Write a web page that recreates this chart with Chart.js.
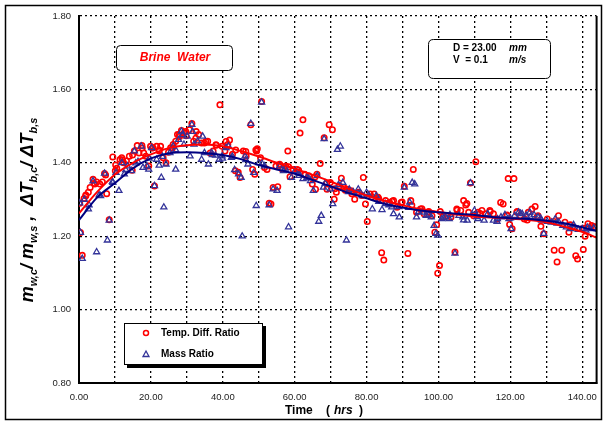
<!DOCTYPE html>
<html><head><meta charset="utf-8">
<script src="https://cdn.jsdelivr.net/npm/chart.js@4.4.1/dist/chart.umd.min.js"></script>
<style>html,body{margin:0;padding:0;background:#fff}#wrap{width:606px;height:425px;position:relative}</style>
</head><body><div id="wrap"><canvas id="c" width="606" height="425"></canvas></div>
<script>
// ---- Data ----
const tempX = [0.2,0.4,0.9,1.4,1.9,2.6,3.1,3.9,4.4,4.9,5.8,6.5,7.1,7.7,8.4,9.4,10.1,10.5,11.4,11.9,12.4,13.2,14.0,14.8,15.4,16.2,16.7,17.5,18.0,18.6,19.4,19.9,20.6,21.0,21.6,22.3,22.7,23.4,24.2,24.9,25.5,26.2,26.9,27.4,28.0,28.5,29.2,29.8,30.7,31.4,31.9,32.6,33.3,34.1,34.9,35.8,36.5,37.3,38.2,39.2,39.8,40.6,41.4,41.9,42.7,43.5,44.3,44.8,45.7,46.5,47.8,48.3,48.9,49.4,49.6,50.5,50.8,51.6,52.3,52.9,53.4,54.0,54.8,55.3,55.8,56.6,57.5,58.1,58.7,59.6,60.7,61.5,62.3,62.8,63.9,64.9,65.8,66.2,67.1,68.2,69.0,69.6,69.9,70.5,71.0,71.6,72.5,73.0,73.7,74.6,75.7,76.7,77.8,79.1,79.7,80.2,81.0,82.1,83.2,84.2,84.8,85.3,86.4,87.5,88.5,89.6,90.5,91.5,92.3,93.0,93.9,95.0,96.0,97.1,98.2,99.0,99.5,99.8,100.3,101.2,102.5,103.5,104.6,105.1,106.2,107.0,107.6,108.4,108.9,109.8,110.4,111.0,112.1,113.2,114.3,115.3,116.4,117.3,118.0,119.1,119.4,119.8,120.5,121.0,121.8,122.8,123.9,125.0,126.0,126.9,127.7,128.5,129.3,130.3,132.2,133.0,133.4,134.3,135.2,136.3,137.3,138.2,138.7,140.0,140.3,140.8,141.6,142.6,143.4,
  55.9,58.3,61.1,62.9,65.7,68.9,71.2,74.1,75.9,78.7,81.5,83.4,87.1,89.9,92.6,95.4,97.3,100.5,105.2,107.9,111.6,114.4,119.1,121.9,124.7,127.5,132.1,136.7,140.5,143.3,
  1.9,4.2,7.4,10.2,12.1,14.9,17.6,20.4,22.3,26.0,27.9,29.7,32.5,35.3,38.1,40.9,43.6,46.4,49.2];
const tempY = [1.29,1.21,1.148,1.303,1.31,1.32,1.333,1.355,1.342,1.348,1.342,1.348,1.371,1.316,1.245,1.416,1.378,1.385,1.409,1.414,1.40,1.405,1.418,1.38,1.432,1.447,1.427,1.447,1.427,1.418,1.391,1.445,1.441,1.337,1.445,1.432,1.445,1.414,1.40,1.429,1.441,1.45,1.459,1.477,1.472,1.488,1.481,1.474,1.49,1.507,1.459,1.485,1.477,1.454,1.454,1.459,1.427,1.432,1.448,1.558,1.445,1.432,1.45,1.462,1.423,1.378,1.374,1.36,1.432,1.418,1.504,1.382,1.369,1.432,1.438,1.414,1.567,1.387,1.382,1.29,1.288,1.333,1.391,1.335,1.396,1.382,1.391,1.432,1.362,1.382,1.382,1.481,1.517,1.369,1.365,1.342,1.328,1.369,1.398,1.468,1.328,1.504,1.346,1.49,1.301,1.32,1.337,1.358,1.333,1.328,1.324,1.301,1.32,1.36,1.288,1.24,1.315,1.315,1.306,1.155,1.135,1.297,1.292,1.297,1.279,1.292,1.336,1.153,1.297,1.382,1.265,1.274,1.261,1.265,1.256,1.211,1.231,1.099,1.12,1.252,1.256,1.252,1.157,1.274,1.27,1.297,1.285,1.265,1.345,1.256,1.403,1.265,1.27,1.261,1.27,1.261,1.247,1.292,1.288,1.256,1.357,1.232,1.22,1.357,1.265,1.256,1.247,1.265,1.274,1.281,1.256,1.227,1.207,1.247,1.162,1.13,1.256,1.162,1.238,1.211,1.225,1.147,1.138,1.22,1.164,1.20,1.234,1.229,1.225,
  1.394,1.389,1.380,1.367,1.362,1.344,1.329,1.325,1.316,1.311,1.307,1.302,1.295,1.293,1.284,1.275,1.267,1.267,1.271,1.289,1.262,1.267,1.258,1.267,1.244,1.253,1.240,1.231,1.222,1.226,
  1.312,1.344,1.367,1.394,1.408,1.421,1.440,1.440,1.435,1.440,1.476,1.485,1.467,1.458,1.449,1.458,1.435,1.431,1.435];
const massX = [0.2,0.4,0.9,1.5,2.6,3.9,4.9,6.0,7.1,7.9,8.4,9.4,10.3,11.1,11.9,12.6,13.5,14.6,15.4,16.4,17.3,17.8,18.9,19.4,20.2,21.0,21.6,22.3,22.9,23.6,24.2,25.3,26.2,26.9,27.7,28.5,29.2,30.1,30.9,31.4,32.0,33.0,34.1,34.9,36.0,36.9,38.0,39.0,39.8,40.9,41.6,42.4,43.3,44.4,45.1,45.4,46.2,47.0,47.8,48.6,49.3,50.0,50.8,51.6,52.9,54.0,55.1,55.8,56.9,58.3,59.1,60.1,61.2,62.3,63.4,64.4,65.2,66.3,66.7,67.4,68.0,68.2,69.9,70.6,71.9,72.7,73.4,74.4,75.2,76.3,77.7,78.8,80.0,81.6,82.7,84.3,85.3,87.0,87.5,89.1,90.5,92.0,92.7,93.4,93.9,95.5,96.6,98.0,98.8,99.3,99.8,100.9,102.0,103.0,104.6,105.7,106.8,108.0,108.9,110.0,111.0,112.7,113.7,115.3,116.4,117.4,118.5,119.6,120.2,121.2,122.3,123.3,124.4,125.4,126.6,127.7,128.7,129.3,130.3,131.4,132.5,133.5,134.6,135.6,136.7,137.8,138.9,140.0,141.0,142.1,143.2,
  50.9,57.4,61.1,63.9,68.5,72.2,75.0,77.8,80.6,83.4,86.2,89.0,91.7,94.5,97.3,101.4,103.2,107.0,110.7,116.3,120.0,122.8,125.6,128.4,133.0,137.6,141.4,
  2.8,5.6,9.3,13.0,15.8,19.5,23.2,26.9,28.8,31.6,34.4,37.1,39.9,42.7,46.4];
const massY = [1.29,1.21,1.139,1.30,1.274,1.35,1.157,1.31,1.371,1.189,1.243,1.346,1.373,1.324,1.40,1.369,1.391,1.378,1.432,1.403,1.445,1.387,1.391,1.382,1.441,1.337,1.409,1.393,1.36,1.279,1.396,1.427,1.445,1.382,1.463,1.486,1.45,1.472,1.418,1.504,1.45,1.459,1.409,1.427,1.396,1.427,1.42,1.409,1.418,1.441,1.445,1.414,1.381,1.369,1.36,1.20,1.418,1.396,1.507,1.373,1.283,1.40,1.565,1.391,1.285,1.328,1.324,1.391,1.378,1.225,1.36,1.378,1.365,1.356,1.36,1.351,1.324,1.365,1.24,1.256,1.333,1.465,1.328,1.288,1.436,1.445,1.346,1.189,1.328,1.32,1.328,1.31,1.319,1.274,1.31,1.272,1.288,1.279,1.261,1.252,1.333,1.292,1.346,1.342,1.252,1.265,1.256,1.252,1.229,1.207,1.202,1.247,1.252,1.247,1.153,1.256,1.252,1.243,1.345,1.27,1.247,1.243,1.261,1.243,1.247,1.252,1.258,1.247,1.22,1.256,1.265,1.261,1.256,1.265,1.258,1.252,1.243,1.207,1.24,1.238,1.247,1.238,1.229,1.225,1.22,1.222,1.218,1.22,1.216,1.22,1.222,
  1.398,1.385,1.372,1.358,1.344,1.340,1.321,1.316,1.312,1.294,1.285,1.280,1.278,1.267,1.258,1.249,1.258,1.244,1.253,1.240,1.249,1.262,1.253,1.249,1.235,1.231,1.224,
  1.285,1.312,1.349,1.381,1.399,1.412,1.417,1.435,1.476,1.485,1.472,1.422,1.412,1.417,1.408];
const fitX = [0,5,10,15,20,25,30,35,40,45,50,55,60,65,70,75,80,85,90,95,100,105,110,115,120,125,130,135,140,144];
const tempFitY = [1.262,1.32,1.368,1.400,1.423,1.440,1.448,1.450,1.445,1.432,1.417,1.400,1.384,1.367,1.349,1.329,1.311,1.297,1.284,1.274,1.266,1.259,1.254,1.251,1.248,1.244,1.238,1.226,1.212,1.196];
const massFitY = [1.244,1.305,1.345,1.385,1.412,1.426,1.429,1.427,1.421,1.410,1.394,1.382,1.370,1.353,1.336,1.318,1.303,1.288,1.278,1.270,1.265,1.261,1.258,1.252,1.249,1.247,1.242,1.235,1.224,1.214];
const xTicks = [0,10,20,30,40,50,60,70,80,90,100,110,120,130,140];
const xLabelled = [0,20,40,60,80,100,120,140];
const yTicks = [0.8,1.0,1.2,1.4,1.6,1.8];
const seriesNames = ['Temp. Diff. Ratio', 'Mass Ratio'];
const xTitle = 'Time';
const xUnit = 'hrs';
const boxLabel = 'Brine  Water';
const paramLines = [['D = 23.00', 'mm'], ['V  = 0.1', 'm/s']];

const pts = (xs, ys) => xs.map((x, i) => ({x: x, y: ys[i]}));
const RED = '#ff0000', NAVY = '#000080', TRI = '#333399';
const FONT = '"Liberation Sans", Arial, sans-serif';

const deco = {
  id: 'deco',
  afterDraw(chart) {
    const ctx = chart.ctx, a = chart.chartArea;
    ctx.save();
    ctx.strokeStyle = '#000'; ctx.lineWidth = 1.5;
    ctx.strokeRect(5.5, 5.5, 596, 414);
    ctx.lineWidth = 2;
    ctx.beginPath(); ctx.moveTo(a.right, a.top); ctx.lineTo(a.right, a.bottom + 1); ctx.stroke();

    function rbox(x, y, w, h, r) {
      ctx.beginPath();
      ctx.moveTo(x + r, y); ctx.lineTo(x + w - r, y); ctx.quadraticCurveTo(x + w, y, x + w, y + r);
      ctx.lineTo(x + w, y + h - r); ctx.quadraticCurveTo(x + w, y + h, x + w - r, y + h);
      ctx.lineTo(x + r, y + h); ctx.quadraticCurveTo(x, y + h, x, y + h - r);
      ctx.lineTo(x, y + r); ctx.quadraticCurveTo(x, y, x + r, y); ctx.closePath();
      ctx.fillStyle = '#fff'; ctx.fill();
      ctx.strokeStyle = '#000'; ctx.lineWidth = 1; ctx.stroke();
    }
    rbox(116.5, 45.5, 116, 25, 4);
    ctx.fillStyle = RED; ctx.font = 'italic bold 12px ' + FONT;
    ctx.textAlign = 'center'; ctx.textBaseline = 'middle';
    ctx.fillText(boxLabel, 175, 58);
    rbox(428.5, 39.5, 122, 39, 5);
    ctx.fillStyle = '#000'; ctx.textAlign = 'left';
    paramLines.forEach((ln, i) => {
      const y = 48 + i * 12.5;
      ctx.font = 'bold 10px ' + FONT; ctx.fillText(ln[0], 453, y);
      ctx.font = 'italic bold 10px ' + FONT; ctx.fillText(ln[1], 509, y);
    });
    // legend
    ctx.fillStyle = '#000'; ctx.fillRect(127, 326, 139, 42);
    ctx.fillStyle = '#fff'; ctx.fillRect(124, 323, 139, 42);
    ctx.strokeStyle = '#000'; ctx.lineWidth = 1; ctx.strokeRect(124.5, 323.5, 138, 41);
    ctx.strokeStyle = RED; ctx.lineWidth = 1.5;
    ctx.beginPath(); ctx.arc(146, 333, 2.5, 0, Math.PI * 2); ctx.stroke();
    ctx.strokeStyle = TRI; ctx.lineWidth = 1.3;
    ctx.beginPath(); ctx.moveTo(146, 351); ctx.lineTo(149, 356.5); ctx.lineTo(143, 356.5); ctx.closePath(); ctx.stroke();
    ctx.fillStyle = '#000'; ctx.font = 'bold 10px ' + FONT; ctx.textAlign = 'left'; ctx.textBaseline = 'middle';
    ctx.fillText(seriesNames[0], 161, 333);
    ctx.fillText(seriesNames[1], 161, 354);
    // x title
    ctx.font = 'bold 12px ' + FONT; ctx.fillText(xTitle, 285, 411);
    ctx.fillText('(', 326, 411);
    ctx.font = 'italic bold 12px ' + FONT; ctx.fillText(xUnit, 334, 411);
    ctx.font = 'bold 12px ' + FONT; ctx.fillText(')', 359, 411);
    // y title with subscripts
    const segs = [['m', 0], ['w,c', 1], ['/ ', 0], ['m', 0], ['w,s', 1], [' ,  ', 0], ['\u0394T', 0], ['b,c', 1], ['/ ', 0], ['\u0394T', 0], ['b,s', 1]];
    const big = 'italic bold 18px ' + FONT, small = 'italic bold 11px ' + FONT;
    let total = 0;
    segs.forEach(s => { ctx.font = s[1] ? small : big; s.w = ctx.measureText(s[0]).width; total += s.w; });
    ctx.translate(27, 210); ctx.rotate(-Math.PI / 2);
    let x = -total / 2;
    ctx.textAlign = 'left'; ctx.textBaseline = 'alphabetic';
    segs.forEach(s => { ctx.font = s[1] ? small : big; ctx.fillText(s[0], x, s[1] ? 10 : 6); x += s.w; });
    ctx.restore();
  }
};

new Chart(document.getElementById('c'), {
  type: 'scatter',
  data: {
    datasets: [
      {label: 'massFit', type: 'line', data: pts(fitX, massFitY), borderColor: NAVY, borderWidth: 2, pointRadius: 0, fill: false, cubicInterpolationMode: 'monotone', order: 1},
      {label: 'tempFit', type: 'line', data: pts(fitX, tempFitY), borderColor: RED, borderWidth: 2, pointRadius: 0, fill: false, cubicInterpolationMode: 'monotone', order: 2},
      {label: seriesNames[1], data: pts(massX, massY), pointStyle: 'triangle', pointRadius: 3.5, borderColor: TRI, backgroundColor: 'rgba(0,0,0,0)', borderWidth: 1.3, order: 3},
      {label: seriesNames[0], data: pts(tempX, tempY), pointStyle: 'circle', pointRadius: 2.7, borderColor: RED, backgroundColor: 'rgba(0,0,0,0)', borderWidth: 1.6, order: 4}
    ]
  },
  options: {
    responsive: false, animation: false, devicePixelRatio: 1,
    layout: {padding: {left: 0, top: 16, right: 9, bottom: 0}},
    plugins: {legend: {display: false}, tooltip: {enabled: false}},
    scales: {
      x: {
        type: 'linear', min: 0, max: 144,
        afterFit: s => { s.height = 42; },
        afterBuildTicks: s => { s.ticks = xTicks.map(v => ({value: v})); },
        ticks: {autoSkip: false, maxRotation: 0, padding: 9, color: '#222',
          font: {family: FONT, size: 9.5},
          callback: v => xLabelled.includes(v) ? v.toFixed(2) : ''},
        grid: {color: '#000', lineWidth: 1.3, drawTicks: false},
        border: {display: true, color: '#000', width: 2, dash: [2, 3]}
      },
      y: {
        min: 0.8, max: 1.8,
        afterFit: s => { s.width = 79; },
        afterBuildTicks: s => { s.ticks = yTicks.map(v => ({value: v})); },
        ticks: {padding: 8, color: '#222', font: {family: FONT, size: 9.5},
          callback: v => v.toFixed(2)},
        grid: {color: '#000', lineWidth: 1.3, drawTicks: false},
        border: {display: true, color: '#000', width: 2, dash: [2, 3]}
      }
    }
  },
  plugins: [deco]
});
</script></body></html>
